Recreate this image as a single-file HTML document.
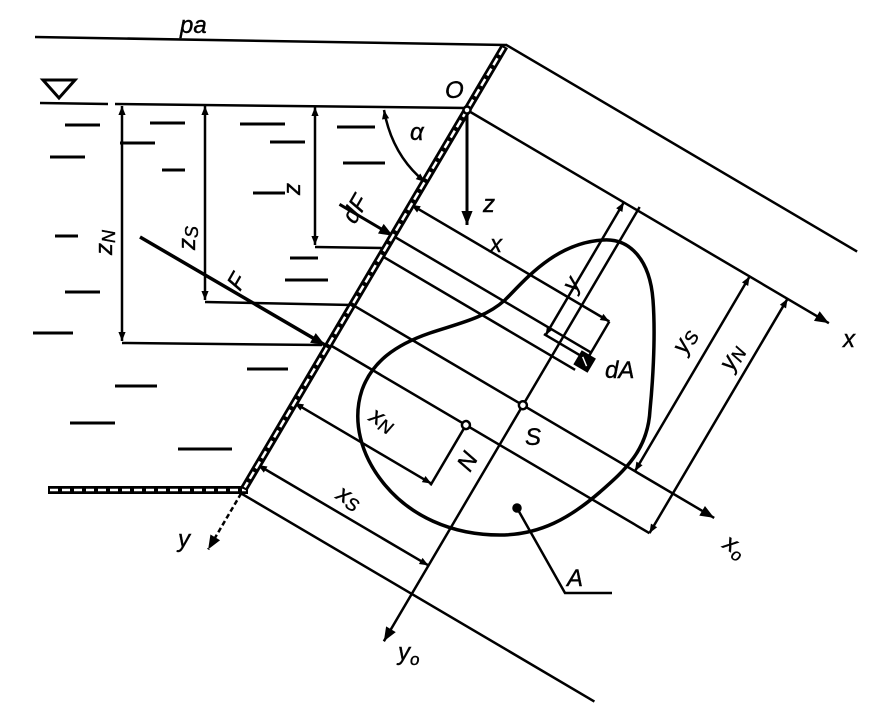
<!DOCTYPE html>
<html><head><meta charset="utf-8"><style>
html,body{margin:0;padding:0;background:#fff;width:892px;height:720px;overflow:hidden;}
svg{display:block;}
text{font-family:"Liberation Sans",sans-serif;font-style:italic;font-size:24px;fill:#000;stroke:#000;stroke-width:0.4;}
</style></head><body>
<svg width="892" height="720" viewBox="0 0 892 720" xmlns="http://www.w3.org/2000/svg">
<defs>
<marker id="a" viewBox="0 0 10 10" refX="10" refY="5" markerWidth="10" markerHeight="9" markerUnits="userSpaceOnUse" orient="auto-start-reverse"><path d="M0,1 L10,5 L0,9 z" fill="#000"/></marker>
<marker id="b" viewBox="0 0 10 10" refX="10" refY="5" markerWidth="22" markerHeight="14" markerUnits="userSpaceOnUse" orient="auto-start-reverse"><path d="M0,1 L10,5 L0,9 z" fill="#000"/></marker>
</defs>
<g stroke="#000" fill="none" stroke-width="2.5">
<line x1="35" y1="37" x2="506" y2="45"/>
<line x1="40" y1="103" x2="108" y2="104"/>
<line x1="115" y1="104" x2="467" y2="108"/>
<path d="M43,80 L75,80 L59,98 z" stroke-width="3"/>
<g stroke-width="3">
<line x1="65" y1="125" x2="100" y2="125"/><line x1="50" y1="157" x2="85" y2="157"/>
<line x1="55" y1="236" x2="78" y2="236"/><line x1="65" y1="292" x2="100" y2="292"/>
<line x1="33" y1="333" x2="73" y2="333"/><line x1="120" y1="143" x2="155" y2="143"/>
<line x1="150" y1="123" x2="185" y2="123"/><line x1="162" y1="170" x2="185" y2="170"/>
<line x1="240" y1="124" x2="285" y2="124"/><line x1="270" y1="142" x2="305" y2="142"/>
<line x1="253" y1="193" x2="285" y2="193"/><line x1="290" y1="258" x2="318" y2="258"/>
<line x1="285" y1="280" x2="328" y2="280"/><line x1="337" y1="127" x2="375" y2="127"/>
<line x1="343" y1="163" x2="385" y2="163"/><line x1="247" y1="369" x2="288" y2="369"/>
<line x1="115" y1="386" x2="157" y2="386"/><line x1="70" y1="423" x2="115" y2="423"/>
<line x1="178" y1="449" x2="232" y2="449"/>
</g>
<line x1="122" y1="106" x2="122" y2="341" marker-start="url(#a)" marker-end="url(#a)"/>
<line x1="122" y1="343" x2="322" y2="345"/>
<line x1="205" y1="106" x2="205" y2="300" marker-start="url(#a)" marker-end="url(#a)"/>
<line x1="205" y1="302" x2="352" y2="305"/>
<line x1="315" y1="107" x2="315" y2="245" marker-start="url(#a)" marker-end="url(#a)"/>
<line x1="315" y1="247" x2="385" y2="248"/>
<path d="M384,110 Q392,155 425,182" marker-start="url(#a)" marker-end="url(#a)"/>
<line x1="467" y1="110" x2="467" y2="225" stroke-width="3" marker-end="url(#b)"/>
<line x1="140" y1="237" x2="325" y2="345" stroke-width="3.5" marker-end="url(#b)"/>
<line x1="48" y1="490" x2="248" y2="490" stroke-width="8"/>
<line x1="50" y1="490" x2="246" y2="490" stroke="#fff" stroke-width="2.5" stroke-dasharray="8,4"/>
<path d="M603,240 C630,238 650,260 653,300 C656,340 652,390 650,410 C648,450 625,470 600,492 C570,518 540,535 500,535 C450,535 410,515 385,485 C360,455 352,420 362,390 C372,362 395,345 430,333 C460,323 485,318 505,300 C525,280 555,243 603,240 Z" stroke-width="3.5"/>
<circle cx="517" cy="508" r="3.5" fill="#000"/>
<polyline points="517,508 565,593 612,593"/>
</g>
<g transform="translate(467,110) rotate(30.5)" stroke="#000" fill="none" stroke-width="2.5">
<line x1="0" y1="-76" x2="408" y2="-76"/>
<line x1="0" y1="0" x2="420" y2="0" marker-end="url(#b)"/>
<line x1="0" y1="110" x2="230" y2="110" marker-start="url(#a)" marker-end="url(#a)"/>
<line x1="230" y1="110" x2="230" y2="158"/>
<line x1="182" y1="0" x2="182" y2="154" marker-start="url(#a)" marker-end="url(#a)"/>
<line x1="180" y1="154" x2="230" y2="154"/>
<line x1="-62" y1="146" x2="0" y2="146" stroke-width="3" marker-end="url(#b)"/>
<line x1="0" y1="146" x2="230" y2="146"/>
<line x1="0" y1="169" x2="225" y2="169"/>
<rect x="222" y="150" width="14" height="14" fill="#000"/>
<line x1="225" y1="154" x2="233" y2="160" stroke="#fff" stroke-width="1.5"/>
<line x1="0" y1="226" x2="420" y2="226" marker-end="url(#b)"/>
<line x1="0" y1="272" x2="372" y2="272"/>
<line x1="328" y1="0" x2="328" y2="226" marker-start="url(#a)" marker-end="url(#a)"/>
<line x1="372" y1="0" x2="372" y2="272" marker-start="url(#a)" marker-end="url(#a)"/>
<line x1="0" y1="340" x2="159" y2="340" marker-start="url(#a)" marker-end="url(#a)"/>
<line x1="159" y1="272" x2="159" y2="342"/>
<line x1="0" y1="412" x2="198" y2="412" marker-start="url(#a)" marker-end="url(#a)"/>
<line x1="0" y1="445" x2="410" y2="445" stroke-width="2.5"/>
<line x1="198" y1="-4" x2="198" y2="500" marker-end="url(#b)"/>
<line x1="0" y1="445" x2="0" y2="510" stroke-dasharray="5,3" marker-end="url(#b)"/>
<line x1="0" y1="-74" x2="0" y2="440" stroke-width="8"/>
<line x1="0" y1="-72" x2="0" y2="438" stroke="#fff" stroke-width="2.5" stroke-dasharray="8,4"/>
<circle cx="0" cy="0" r="3.5" fill="#fff"/>
<circle cx="198" cy="226" r="4" fill="#fff"/>
<circle cx="159" cy="272" r="4" fill="#fff"/>
</g>
<text x="180" y="33" font-size="28">p<tspan font-size="24">a</tspan></text>
<text x="445" y="98" font-size="26">O</text>
<text x="410" y="140" font-size="26">α</text>
<text x="483" y="212">z</text>
<text x="490" y="252">x</text>
<text x="843" y="347">x</text>
<text x="605" y="378">dA</text>
<text x="525" y="445">S</text>
<text x="178" y="547">y</text>
<text x="725" y="555" transform="rotate(30 738 545)">x<tspan font-size="17" dy="5">o</tspan></text>
<text x="567" y="586">A</text>
<text x="398" y="660">y<tspan font-size="17" dy="5">o</tspan></text>
<text transform="translate(300,195) rotate(-90)">z</text>
<text transform="translate(195,250) rotate(-90)">z<tspan font-size="18" dy="3">S</tspan></text>
<text transform="translate(112,255) rotate(-90)">z<tspan font-size="18" dy="3">N</tspan></text>
<text transform="translate(240,292) rotate(-60)">F</text>
<text transform="translate(355,225) rotate(-60)">dF</text>
<text transform="translate(575,293) rotate(-60)">y</text>
<text transform="translate(685,355) rotate(-60)">y<tspan font-size="18" dy="3">S</tspan></text>
<text transform="translate(732,372) rotate(-60)">y<tspan font-size="18" dy="3">N</tspan></text>
<text transform="translate(368,420) rotate(30)">x<tspan font-size="18" dy="3">N</tspan></text>
<text transform="translate(335,498) rotate(30)">x<tspan font-size="18" dy="3">S</tspan></text>
<text transform="translate(470,473) rotate(-60)">N</text>
</svg>
</body></html>
